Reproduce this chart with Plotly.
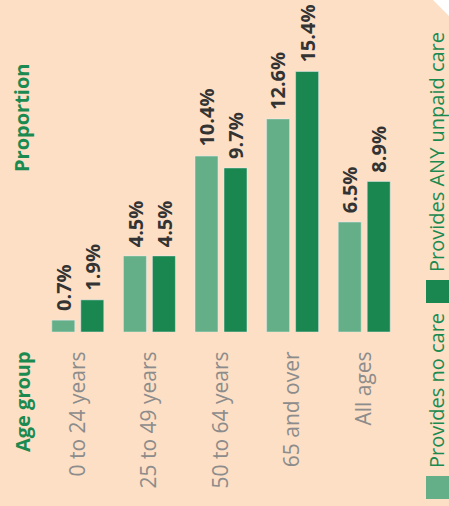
import plotly.graph_objects as go

# data
age_groups = ["0 to 24 years", "25 to 49 years", "50 to 64 years", "65 and over", "All ages"]
no_care = [0.7, 4.5, 10.4, 12.6, 6.5]
any_care = [1.9, 4.5, 9.7, 15.4, 8.9]

BG = "#FCDFC5"
LIGHT = "#64AF88"
DARK = "#1A8751"
GREEN_TXT = "#1B8A50"
FONT = "Open Sans"

# plot area in pixels (used to convert paper coords)
W, H = 449, 506
L, R = 42, 400
T, B = 36, 332
BAR_OFF = 14.5  # half distance between the two bars in a group (px)


def px_x(p):
    return (p - L) / (R - L)


def px_y(p):
    return (B - p) / (B - T)


fig = go.Figure()
fig.add_trace(go.Bar(x=age_groups, y=no_care, name="Provides no care", marker_color=LIGHT))
fig.add_trace(go.Bar(x=age_groups, y=any_care, name="Provides ANY unpaid care", marker_color=DARK))

shapes = [
    # cut corner top right
    dict(type="path", xref="paper", yref="paper",
         path=f"M {px_x(431)},{px_y(-2)} L {px_x(452)},{px_y(-2)} L {px_x(452)},{px_y(19)} Z",
         fillcolor="white", line=dict(width=0), layer="above"),
    # legend swatches
    dict(type="rect", xref="paper", yref="paper",
         x0=px_x(426), x1=px_x(452), y0=px_y(303), y1=px_y(280),
         fillcolor=DARK, line=dict(width=0)),
    dict(type="rect", xref="paper", yref="paper",
         x0=px_x(426), x1=px_x(452), y0=px_y(499), y1=px_y(476),
         fillcolor=LIGHT, line=dict(width=0)),
]

annotations = []
# value labels above bars
for vals, shift in [(no_care, -BAR_OFF), (any_care, BAR_OFF)]:
    for cat, v in zip(age_groups, vals):
        annotations.append(dict(
            text=f"<b>{v}%</b>", x=cat, y=v, xref="x", yref="y",
            xanchor="center", yanchor="bottom", xshift=shift, yshift=7,
            textangle=-90, showarrow=False,
            font=dict(family=FONT, size=20, color="#333333"),
        ))

side_text = [
    ("<b>Proportion</b>", 22, 118),
    ("<b>Age group</b>", 22, 402),
    ("Provides ANY unpaid care", 436, 152),
    ("Provides no care", 436, 391),
]
for txt, xp, yp in side_text:
    annotations.append(dict(
        text=txt, xref="paper", yref="paper", x=px_x(xp), y=px_y(yp),
        xanchor="center", yanchor="middle", textangle=-90, showarrow=False,
        font=dict(family=FONT, size=20, color=GREEN_TXT),
    ))

fig.update_layout(
    width=W, height=H,
    paper_bgcolor=BG, plot_bgcolor=BG,
    margin=dict(l=L, r=W - R, t=T, b=H - B),
    barmode="group", bargap=0.19, bargroupgap=0.207,
    showlegend=False,
    shapes=shapes, annotations=annotations,
    font=dict(family=FONT),
)
fig.update_xaxes(
    tickangle=-90, ticks="outside", ticklen=10, tickcolor=BG,
    tickfont=dict(family=FONT, size=21, color="#8C8C8C"),
    showline=False, showgrid=False,
)
fig.update_yaxes(range=[0, 17.5], visible=False)

fig.write_html(
    "out.html",
    config={"displayModeBar": False},
    post_script="document.body.style.margin='0';",
)
